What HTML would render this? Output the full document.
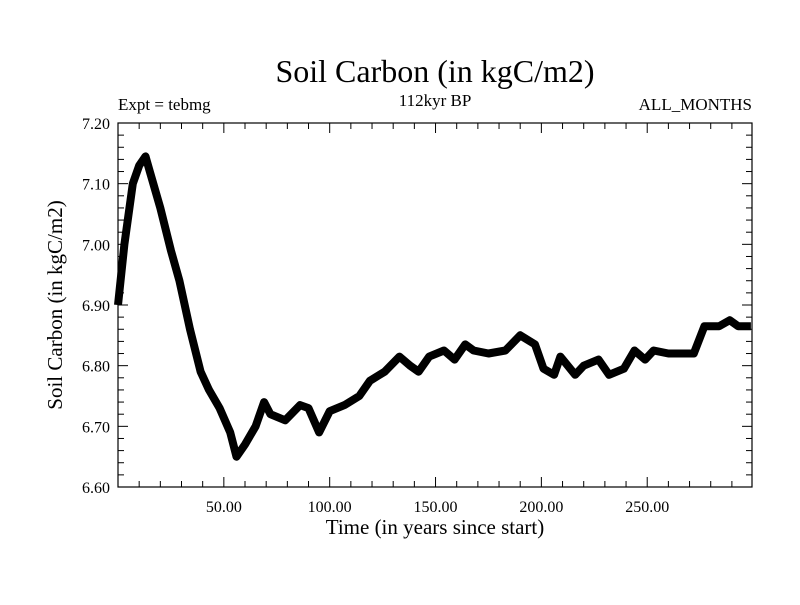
<!DOCTYPE html>
<html><head><meta charset="utf-8"><style>
body{margin:0;background:#fff}
svg text{font-family:"Liberation Serif",serif;fill:#000}
</style></head><body>
<svg id="chart" width="800" height="600">
<text x="435" y="82" font-size="32" text-anchor="middle">Soil Carbon (in kgC/m2)</text>
<text x="118" y="110" font-size="17">Expt = tebmg</text>
<text x="435" y="106" font-size="17" text-anchor="middle">112kyr BP</text>
<text x="752" y="110" font-size="17" text-anchor="end">ALL_MONTHS</text>
<text x="435" y="534" font-size="21" text-anchor="middle">Time (in years since start)</text>
<text transform="translate(62,305) rotate(-90)" font-size="21" text-anchor="middle">Soil Carbon (in kgC/m2)</text>
<g id="axes"></g>
<path id="series" fill="none" stroke="#000" stroke-width="8" stroke-linejoin="round"></path>
<rect x="118" y="123" width="634" height="364" fill="none" stroke="#000" stroke-width="1.2"></rect>
</svg>
<script>
const years=[0,3,7,10,13,15,20,25,29,34,39,43,48,53,56,60,65,69,72,79,86,90,95,100,107,114,119,126,133,138,142,147,154,159,164,168,175,183,190,197,201,206,209,216,220,227,232,239,244,249,253,260,267,272,277,284,289,293,299];
const values=[6.90,7.00,7.10,7.13,7.145,7.12,7.06,6.99,6.94,6.86,6.79,6.76,6.73,6.69,6.65,6.67,6.70,6.74,6.72,6.71,6.735,6.73,6.69,6.725,6.735,6.75,6.775,6.79,6.815,6.80,6.79,6.815,6.825,6.81,6.835,6.825,6.82,6.825,6.85,6.835,6.795,6.785,6.815,6.785,6.80,6.81,6.785,6.795,6.825,6.81,6.825,6.82,6.82,6.82,6.865,6.865,6.875,6.865,6.865];
const xTicks=[50,100,150,200,250];
const xTickLabels=["50.00","100.00","150.00","200.00","250.00"];
const yTicks=[6.6,6.7,6.8,6.9,7.0,7.1,7.2];
const yTickLabels=["6.60","6.70","6.80","6.90","7.00","7.10","7.20"];
const X0=118,X1=752,Y0=487,Y1=123,xMin=0,xMax=299.5,yMin=6.6,yMax=7.2;
const sx=v=>X0+(v-xMin)/(xMax-xMin)*(X1-X0);
const sy=v=>Y0-(v-yMin)/(yMax-yMin)*(Y0-Y1);
const NS='http://www.w3.org/2000/svg';
const ax=document.getElementById('axes');
function line(x1,y1,x2,y2,name){const l=document.createElementNS(NS,'line');l.setAttribute('x1',x1);l.setAttribute('y1',y1);l.setAttribute('x2',x2);l.setAttribute('y2',y2);l.setAttribute('stroke','#000');l.setAttribute('stroke-width','1');


ax.appendChild(l);}
function txt(x,y,s,anchor,name){const t=document.createElementNS(NS,'text');t.setAttribute('x',x);t.setAttribute('y',y);t.setAttribute('font-size','16');t.setAttribute('text-anchor',anchor);t.textContent=s;


ax.appendChild(t);}
for(let v=10;v<xMax;v+=10){const x=sx(v);const major=v%50===0;const L=major?10:6;line(x,Y0,x,Y0-L,'x-tick');line(x,Y1,x,Y1+L,'x-tick-top');}
xTicks.forEach((v,i)=>txt(sx(v),512,xTickLabels[i],'middle','x-tick-label'));
for(let k=0;k<=30;k++){const v=yMin+k*0.02;const y=sy(v);const major=k%5===0;const L=major?10:6;line(X0,y,X0+L,y,'y-tick');line(X1,y,X1-L,y,'y-tick-right');}
yTicks.forEach((v,i)=>txt(110,sy(v)+6,yTickLabels[i],'end','y-tick-label'));
document.getElementById('series').setAttribute('d',years.map((y,i)=>(i?'L':'M')+sx(y).toFixed(1)+','+sy(values[i]).toFixed(1)).join(''));
</script>
</body></html>
